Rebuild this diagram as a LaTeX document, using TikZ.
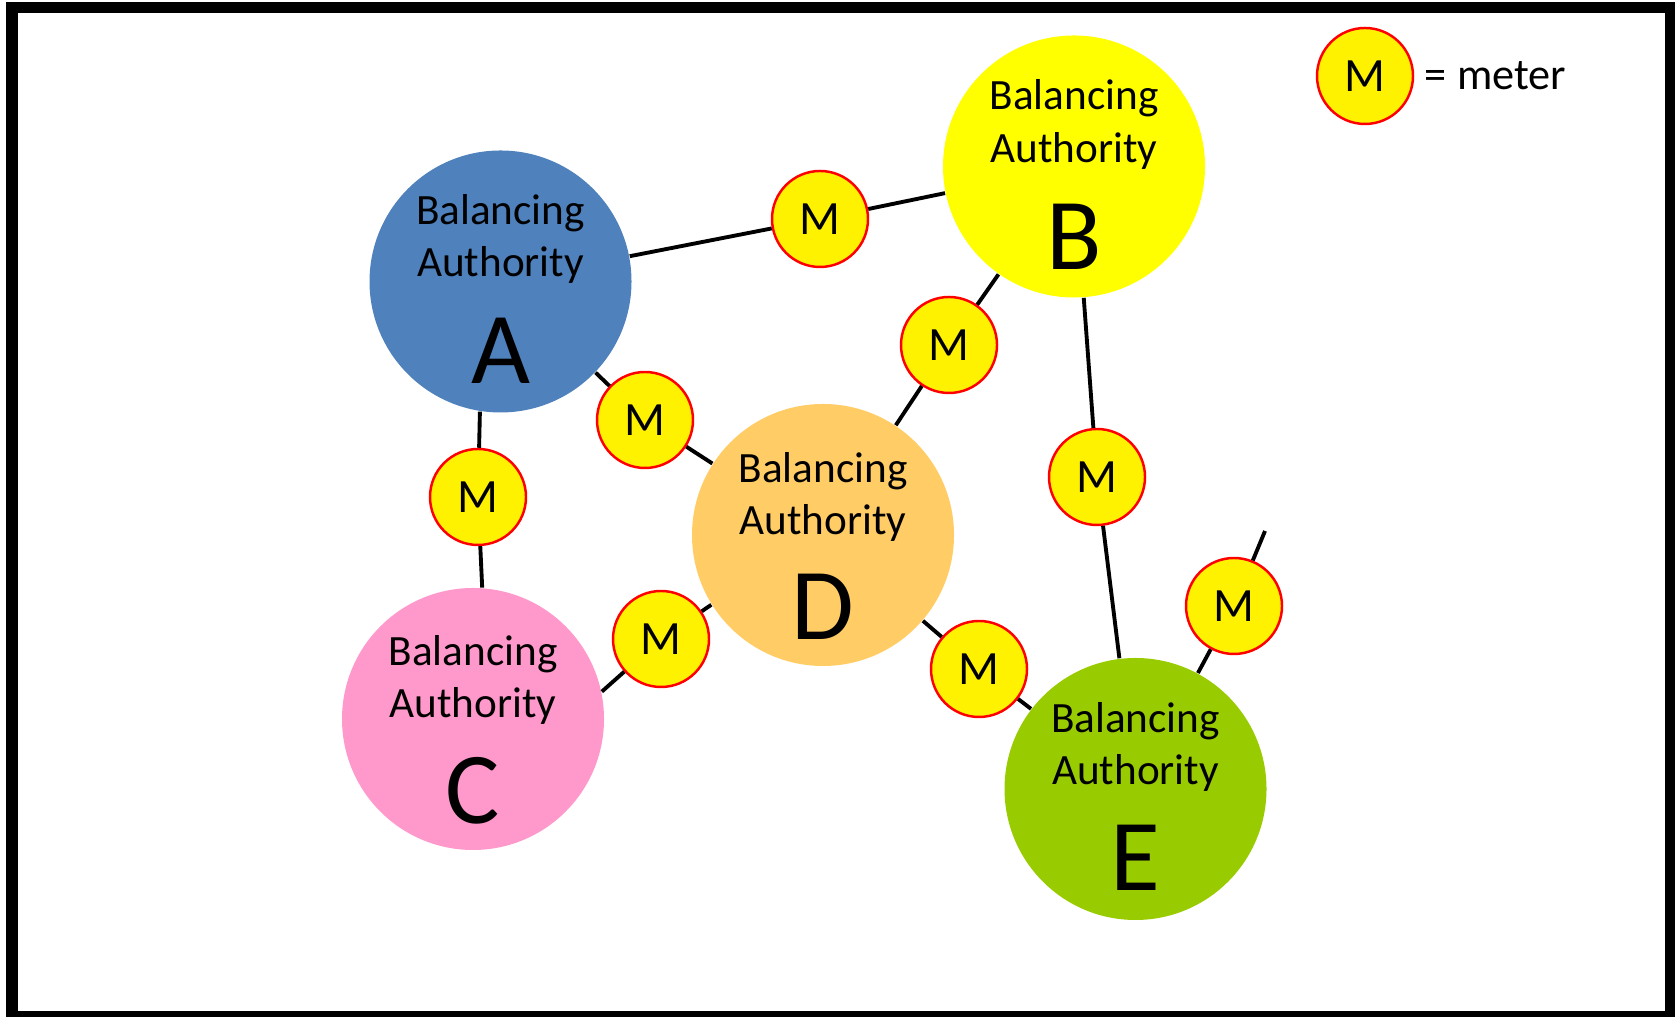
\documentclass[tikz,border=0pt]{standalone}
\usepackage{fontspec}
\setmainfont{Carlito}
\usetikzlibrary{positioning}
\definecolor{baA}{HTML}{4F81BD}
\definecolor{baB}{HTML}{FFFF00}
\definecolor{baC}{HTML}{FF99CC}
\definecolor{baD}{HTML}{FFCC66}
\definecolor{baE}{HTML}{99CC00}
\tikzset{
  ba/.style={circle,minimum size=2.62cm,inner sep=0pt},
  batxt/.style={align=center,inner sep=0pt,font=\fontsize{12.3}{14.8}\selectfont},
  balet/.style={inner sep=0pt,font=\fontsize{29}{29}\selectfont},
  mtr/.style={circle,draw=red,fill=yellow,line width=0.7pt,minimum size=0.96cm,inner sep=0pt,font=\fontsize{13.6}{14}\selectfont},
  ln/.style={line width=1.1pt},
}
\begin{document}
\begin{tikzpicture}
\useasboundingbox (0,0) rectangle (16.75,10.17);
\draw[line width=0.115cm] (0.12,0.005) rectangle (16.705,10.095);
% balancing authorities
\node[ba,fill=baA] (A) at (5.005,7.355){}; \node[ba,fill=baB] (B) at (10.74,8.505){};
\node[ba,fill=baC] (C) at (4.73,2.98){}; \node[ba,fill=baD] (D) at (8.23,4.82){};
\node[ba,fill=baE] (E) at (11.355,2.28){};
\node[batxt] (At) at ([yshift=0.43cm]A.center){Balancing\\Authority}; \node[balet] (Al) at ([yshift=-0.69cm]A.center){A};
\node[batxt] (Bt) at ([yshift=0.42cm]B.center){Balancing\\Authority}; \node[balet] (Bl) at ([yshift=-0.70cm]B.center){B};
\node[batxt] (Ct) at ([yshift=0.39cm]C.center){Balancing\\Authority}; \node[balet] (Cl) at ([yshift=-0.72cm]C.center){C};
\node[batxt] (Dt) at ([yshift=0.38cm]D.center){Balancing\\Authority}; \node[balet] (Dl) at ([yshift=-0.72cm]D.center){D};
\node[batxt] (Et) at ([yshift=0.42cm]E.center){Balancing\\Authority}; \node[balet] (El) at ([yshift=-0.69cm]E.center){E};
% meters
\node[mtr] (mAB) at (8.20,7.98){M}; \node[mtr] (mAD) at (6.45,5.97){M}; \node[mtr] (mAC) at (4.78,5.20){M};
\node[mtr] (mBD) at (9.49,6.72){M}; \node[mtr] (mBE) at (10.97,5.40){M}; \node[mtr] (mCD) at (6.61,3.78){M};
\node[mtr] (mDE) at (9.79,3.48){M}; \node[mtr] (mE) at (12.34,4.11){M};
\coordinate (eEnd) at (12.65,4.86);
% key
\node[mtr] (key) at (13.65,9.41){M};
\node[right=0.1cm of key,inner sep=0pt,font=\fontsize{12.6}{14}\selectfont] (keytxt){= meter};
% ties
\draw[ln] (A) -- (mAB) -- (B); \draw[ln] (A) -- (mAD) -- (D); \draw[ln] (A.261) -- (mAC) -- (C.86);
\draw[ln] (B) -- (mBD) -- (D); \draw[ln] (B) -- (mBE) -- (E); \draw[ln] (C.12) -- (mCD) -- (D.212);
\draw[ln] (D) -- (mDE) -- (E); \draw[ln] (E) -- (mE) -- (eEnd);
\end{tikzpicture}
\end{document}
